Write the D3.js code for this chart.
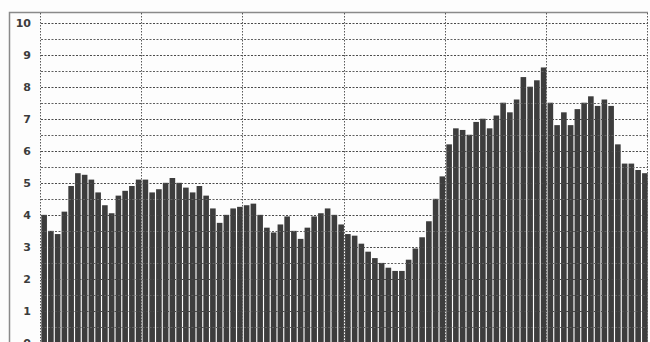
<!DOCTYPE html>
<html>
<head>
<meta charset="utf-8">
<script src="https://cdn.jsdelivr.net/npm/d3@7"></script>
<style>
  body { margin: 0; background: #fdfdfd; }
  svg { display: block; }
  .axis text { font-family: 'DejaVu Sans', sans-serif; font-weight: bold; font-size: 11px; fill: #3c3c3c; }
</style>
</head>
<body>
<svg id="chart" width="650" height="342"></svg>
<script>
// bar heights read left to right off the scan
const barValues = [
  4.0, 3.5, 3.4, 4.1, 4.9, 5.3, 5.25, 5.1, 4.7, 4.3,
  4.05, 4.6, 4.75, 4.9, 5.1, 5.1, 4.7, 4.8, 5.0, 5.15,
  5.0, 4.85, 4.7, 4.9, 4.6, 4.2, 3.75, 4.0, 4.2, 4.25,
  4.3, 4.35, 4.0, 3.6, 3.45, 3.7, 3.95, 3.5, 3.25, 3.6,
  3.95, 4.05, 4.2, 4.0, 3.7, 3.4, 3.35, 3.1, 2.85, 2.65,
  2.5, 2.35, 2.25, 2.25, 2.6, 2.95, 3.3, 3.8, 4.5, 5.2,
  6.2, 6.7, 6.65, 6.5, 6.9, 7.0, 6.7, 7.1, 7.5, 7.2,
  7.6, 8.3, 8.0, 8.2, 8.6, 7.5, 6.8, 7.2, 6.8, 7.3,
  7.5, 7.7, 7.4, 7.6, 7.4, 6.2, 5.6, 5.6, 5.4, 5.3
];
const yTickLabels = [0, 1, 2, 3, 4, 5, 6, 7, 8, 9, 10];
const yGridValues = d3.range(0, 10.01, 0.5);
const xGridCount = 6;

const svg = d3.select('#chart');
const width = 650;
const margin = { top: 13, right: 2, left: 41 };
const plotBottom = 343;

const xScale = d3
  .scaleBand()
  .domain(barValues.map((d, i) => i))
  .range([margin.left, width - margin.right])
  .paddingInner(0.17)
  .paddingOuter(0.05);

const yScale = d3.scaleLinear().domain([0, 10.3]).range([plotBottom, margin.top]);

const xGrid = d3.scaleLinear().domain([0, xGridCount]).range([margin.left, width - margin.right]);

// outer frame (left and top edges)
svg
  .append('path')
  .attr('d', `M9.5,${plotBottom} V${margin.top - 0.5} H${width - margin.right}`)
  .attr('fill', 'none')
  .attr('stroke', '#8a8a8a')
  .attr('stroke-width', 1.5);

// bars
svg
  .append('g')
  .selectAll('rect')
  .data(barValues)
  .enter()
  .append('rect')
  .attr('x', (d, i) => xScale(i))
  .attr('y', (d) => yScale(d))
  .attr('width', xScale.bandwidth())
  .attr('height', (d) => plotBottom - yScale(d))
  .attr('fill', '#3d3d3d');

// horizontal dotted grid
svg
  .append('g')
  .attr('class', 'grid')
  .selectAll('line')
  .data(yGridValues)
  .enter()
  .append('line')
  .attr('x1', margin.left)
  .attr('x2', width - margin.right)
  .attr('y1', (d) => Math.round(yScale(d)) + 0.5)
  .attr('y2', (d) => Math.round(yScale(d)) + 0.5)
  .attr('stroke', (d) => (d % 1 === 0 ? '#4a4a4a' : '#606060'))
  .attr('stroke-width', 1)
  .attr('stroke-dasharray', '2,1.5');

// vertical dotted grid
svg
  .append('g')
  .attr('class', 'grid')
  .selectAll('line')
  .data(d3.range(0, xGridCount + 1))
  .enter()
  .append('line')
  .attr('x1', (d) => Math.round(xGrid(d)) - 0.5)
  .attr('x2', (d) => Math.round(xGrid(d)) - 0.5)
  .attr('y1', margin.top)
  .attr('y2', plotBottom)
  .attr('stroke', '#5a5a5a')
  .attr('stroke-width', 1)
  .attr('stroke-dasharray', '1.5,1.5');

// y axis labels
svg
  .append('g')
  .attr('class', 'axis')
  .attr('transform', `translate(${margin.left - 7},0)`)
  .call(d3.axisLeft(yScale).tickValues(yTickLabels).tickSize(0).tickFormat(d3.format('d')))
  .call((g) => g.select('.domain').remove());
</script>
</body>
</html>
